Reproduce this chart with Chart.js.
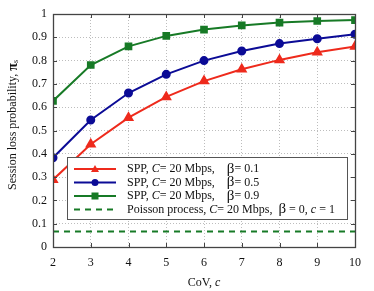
<!DOCTYPE html>
<html lang="en">
<head>
    <meta charset="UTF-8">
    <title>Session loss probability vs CoV</title>
    <style>
        html, body { margin: 0; padding: 0; background: #fff; }
        #wrap { width: 374px; height: 291px; }
    </style>
</head>
<body>
    <div id="wrap"><canvas id="lossChart" width="374" height="291"></canvas></div>

    <script src="https://cdn.jsdelivr.net/npm/chart.js"></script>
    <script>
        // data
        const cov = [2, 3, 4, 5, 6, 7, 8, 9, 10];
        const lossBeta01 = [0.289, 0.441, 0.555, 0.644, 0.712, 0.763, 0.803, 0.836, 0.861];
        const lossBeta05 = [0.383, 0.545, 0.661, 0.741, 0.800, 0.841, 0.873, 0.894, 0.913];
        const lossBeta09 = [0.627, 0.781, 0.861, 0.906, 0.933, 0.951, 0.963, 0.970, 0.974];
        const poissonLoss = [0.066, 0.066, 0.066, 0.066, 0.066, 0.066, 0.066, 0.066, 0.066];
        const yTicks = [0, 0.1, 0.2, 0.3, 0.4, 0.5, 0.6, 0.7, 0.8, 0.9, 1];
        const xTicks = [2, 3, 4, 5, 6, 7, 8, 9, 10];
        const betaLabels = ['0.1', '0.5', '0.9'];

        const FONT = "'Liberation Serif', 'DejaVu Serif', serif";
        const RED = '#ee2a1c', BLUE = '#0b0b96', GREEN = '#177a26';

        const pts = (ys) => cov.map((x, i) => ({ x: x, y: ys[i] }));

        // ticks inside the frame, on all four sides, plus the frame itself
        const framePlugin = {
            id: 'frame',
            afterDatasetsDraw(chart) {
                const { ctx, chartArea: a, scales } = chart;
                ctx.save();
                ctx.strokeStyle = '#444';
                ctx.lineWidth = 1;
                ctx.beginPath();
                xTicks.forEach(v => {
                    const px = Math.round(scales.x.getPixelForValue(v)) + 0.5;
                    ctx.moveTo(px, a.bottom); ctx.lineTo(px, a.bottom - 4);
                    ctx.moveTo(px, a.top); ctx.lineTo(px, a.top + 4);
                });
                yTicks.forEach(v => {
                    const py = Math.round(scales.y.getPixelForValue(v)) + 0.5;
                    ctx.moveTo(a.left, py); ctx.lineTo(a.left + 4, py);
                    ctx.moveTo(a.right, py); ctx.lineTo(a.right - 4, py);
                });
                ctx.stroke();
                ctx.lineWidth = 1.3;
                ctx.strokeRect(Math.round(a.left) + 0.5, Math.round(a.top) + 0.5,
                    Math.round(a.right - a.left), Math.round(a.bottom - a.top));
                ctx.restore();
            }
        };

        // draws a run of text pieces with mixed styles
        function drawRich(ctx, x, y, parts) {
            parts.forEach(p => {
                ctx.font = (p.i ? 'italic ' : '') + (p.b ? 'bold ' : '') + (p.s || 12) + 'px ' + FONT;
                ctx.fillText(p.t, x, y + (p.dy || 0));
                x += ctx.measureText(p.t).width;
            });
            return x;
        }

        const legendPlugin = {
            id: 'innerLegend',
            afterDraw(chart) {
                const { ctx } = chart;
                const bx = 67.5, by = 157.5, bw = 280, bh = 62;
                ctx.save();
                ctx.fillStyle = '#fff';
                ctx.fillRect(bx, by, bw, bh);
                ctx.strokeStyle = '#555';
                ctx.lineWidth = 1;
                ctx.strokeRect(bx, by, bw, bh);

                const rows = [169, 182.5, 196, 209.5];
                chart.data.datasets.forEach((ds, i) => {
                    const y = rows[i];
                    ctx.strokeStyle = ds.borderColor;
                    ctx.lineWidth = 2;
                    ctx.setLineDash(ds.borderDash || []);
                    ctx.beginPath();
                    ctx.moveTo(74, y); ctx.lineTo(116, y);
                    ctx.stroke();
                    ctx.setLineDash([]);
                    ctx.fillStyle = ds.borderColor;
                    if (ds.pointStyle === 'triangle') {
                        ctx.beginPath();
                        ctx.moveTo(95, y - 4); ctx.lineTo(99, y + 3); ctx.lineTo(91, y + 3);
                        ctx.closePath(); ctx.fill();
                    } else if (ds.pointStyle === 'circle') {
                        ctx.beginPath(); ctx.arc(95, y, 3.5, 0, Math.PI * 2); ctx.fill();
                    } else if (ds.pointStyle === 'rect') {
                        ctx.fillRect(91.5, y - 3.5, 7, 7);
                    }

                    ctx.fillStyle = '#111';
                    ctx.textBaseline = 'middle';
                    ctx.textAlign = 'left';
                    if (i < 3) {
                        drawRich(ctx, 127, y, [
                            { t: 'SPP, ' }, { t: 'C', i: true }, { t: '= 20 Mbps,    ' },
                            { t: 'β', s: 15 }, { t: '= ' + betaLabels[i] }
                        ]);
                    } else {
                        drawRich(ctx, 127, y, [
                            { t: 'Poisson process, ' }, { t: 'C', i: true }, { t: '= 20 Mbps,  ' },
                            { t: 'β', s: 15 }, { t: ' = 0, ' }, { t: 'c', i: true }, { t: ' = 1' }
                        ]);
                    }
                });

                // axis titles
                ctx.fillStyle = '#111';
                ctx.textAlign = 'center';
                ctx.textBaseline = 'middle';
                ctx.font = '12px ' + FONT;
                const t1 = 'CoV, ', t2 = 'c';
                const w1 = ctx.measureText(t1).width;
                ctx.font = 'italic 12px ' + FONT;
                const w2 = ctx.measureText(t2).width;
                let sx = 204 - (w1 + w2) / 2;
                ctx.textAlign = 'left';
                drawRich(ctx, sx, 283, [{ t: t1 }, { t: t2, i: true }]);

                ctx.translate(13, 125);
                ctx.rotate(-Math.PI / 2);
                const yparts = [{ t: 'Session loss probability, ' }, { t: 'π', b: true, s: 14 }, { t: 's', s: 8, dy: 3 }];
                let tw = 0;
                yparts.forEach(p => {
                    ctx.font = (p.b ? 'bold ' : '') + (p.s || 12) + 'px ' + FONT;
                    tw += ctx.measureText(p.t).width;
                });
                drawRich(ctx, -tw / 2, 0, yparts);
                ctx.restore();
            }
        };

        const ctx = document.getElementById('lossChart').getContext('2d');
        new Chart(ctx, {
            type: 'line',
            data: {
                datasets: [
                    { data: pts(lossBeta01), borderColor: RED, backgroundColor: RED, pointStyle: 'triangle', pointRadius: 4.5, borderWidth: 2 },
                    { data: pts(lossBeta05), borderColor: BLUE, backgroundColor: BLUE, pointStyle: 'circle', pointRadius: 3.5, borderWidth: 2 },
                    { data: pts(lossBeta09), borderColor: GREEN, backgroundColor: GREEN, pointStyle: 'rect', pointRadius: 4, borderWidth: 2 },
                    { data: pts(poissonLoss), borderColor: GREEN, pointRadius: 0, borderWidth: 2, borderDash: [6, 5] }
                ]
            },
            options: {
                responsive: false,
                animation: false,
                layout: { padding: { left: 0, top: 14, right: 19, bottom: 0 } },
                plugins: { legend: { display: false }, tooltip: { enabled: false } },
                scales: {
                    x: {
                        type: 'linear', min: 2, max: 10,
                        afterFit: s => { s.height = 44; },
                        afterBuildTicks: s => { s.ticks = xTicks.map(v => ({ value: v })); },
                        border: { display: false, dash: [1, 2] },
                        grid: { color: '#bdbdbd', drawTicks: false },
                        ticks: { color: '#111', padding: 9, font: { family: FONT, size: 12 } }
                    },
                    y: {
                        min: 0, max: 1,
                        afterFit: s => { s.width = 53; },
                        afterBuildTicks: s => { s.ticks = yTicks.map(v => ({ value: v })); },
                        border: { display: false, dash: [1, 2] },
                        grid: { color: '#bdbdbd', drawTicks: false },
                        ticks: { color: '#111', padding: 6, font: { family: FONT, size: 12 },
                            callback: v => String(v) }
                    }
                }
            },
            plugins: [framePlugin, legendPlugin]
        });
    </script>
</body>
</html>
